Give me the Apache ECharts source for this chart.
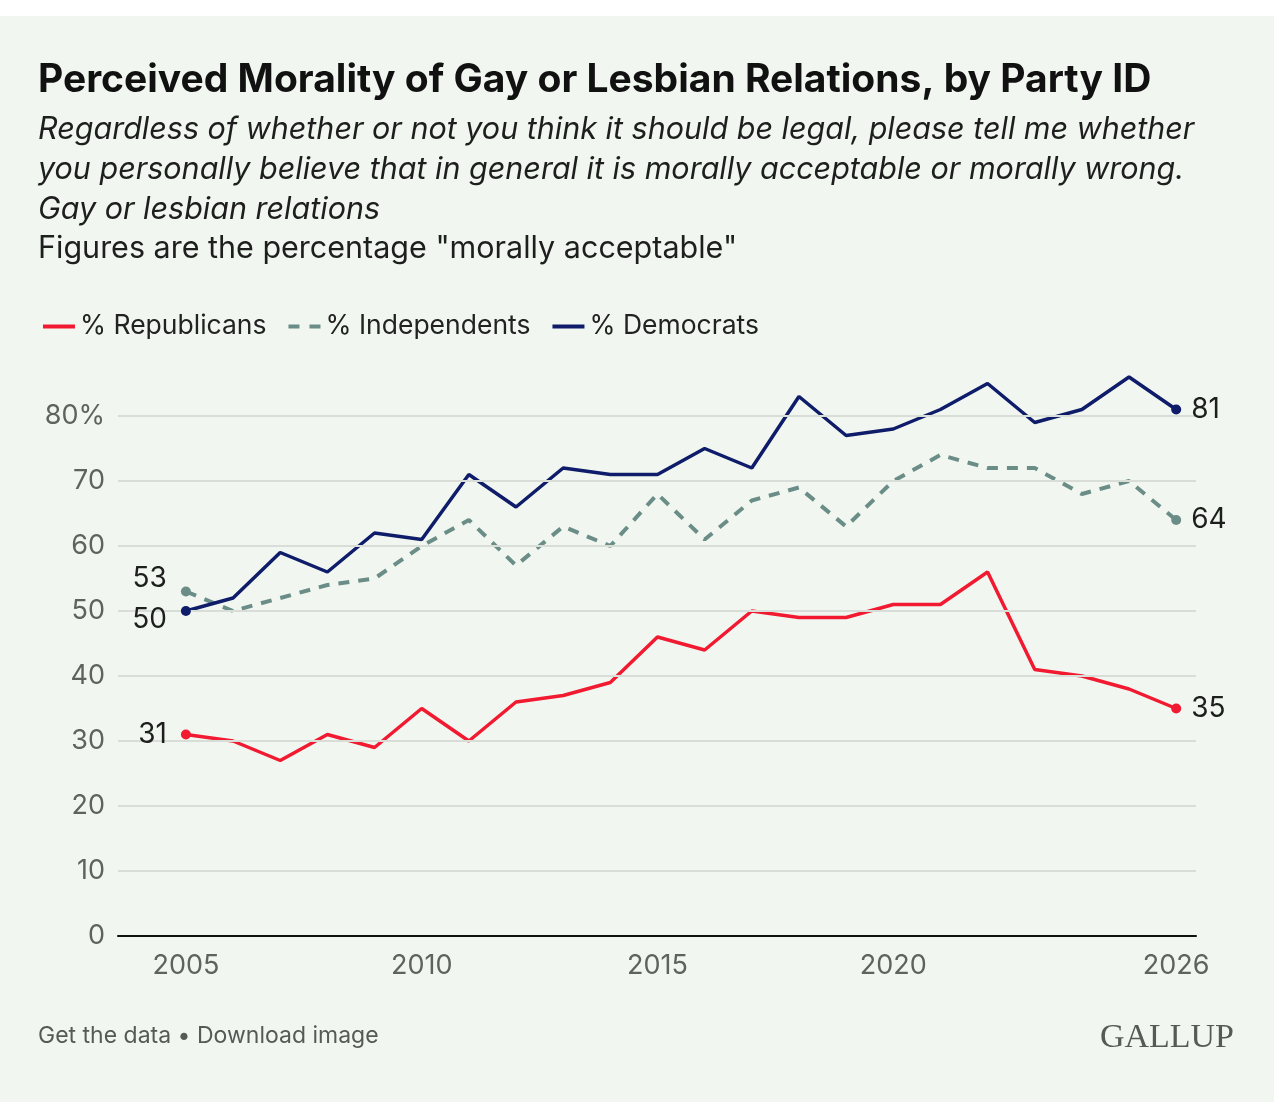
<!DOCTYPE html>
<html lang="en">
<head>
    <meta charset="UTF-8">
    <title>Perceived Morality of Gay or Lesbian Relations, by Party ID</title>
    <script src="https://cdn.jsdelivr.net/npm/echarts@6/dist/echarts.min.js"></script>
    <style>
        html, body {
            margin: 0;
            padding: 0;
            background: #ffffff;
        }

        #chart {
            width: 1280px;
            height: 1102px;
        }
    </style>
</head>
<body>
    <div id="chart"></div>

    <script>
        // data
        const years = [2005, 2006, 2007, 2008, 2009, 2010, 2011, 2012, 2013, 2014, 2015,
                       2016, 2017, 2018, 2019, 2020, 2021, 2022, 2023, 2024, 2025, 2026];
        const republicans = [31, 30, 27, 31, 29, 35, 30, 36, 37, 39, 46, 44, 50, 49, 49, 51, 51, 56, 41, 40, 38, 35];
        const independents = [53, 50, 52, 54, 55, 60, 64, 57, 63, 60, 68, 61, 67, 69, 63, 70, 74, 72, 72, 68, 70, 64];
        const democrats = [50, 52, 59, 56, 62, 61, 71, 66, 72, 71, 71, 75, 72, 83, 77, 78, 81, 85, 79, 81, 86, 81];
        const xTicks = [2005, 2010, 2015, 2020, 2026];
        const yTicks = [0, 10, 20, 30, 40, 50, 60, 70, 80];

        const fontMain = 'Inter, "Noto Sans", sans-serif';
        const RED = '#f11a31';
        const TEAL = '#6b8d87';
        const NAVY = '#0e1c6a';

        // legend icons: plain stroke and dashed stroke
        const ICON_SOLID = 'path://M0,0H32V4H0Z';
        const ICON_DASH = 'path://M0,0H11V4H0Z M21,0H32V4H21Z';

        function pairs(vals) {
            return years.map((y, i) => [y, vals[i]]);
        }

        // end points with labels, taken from the arrays
        function ends(vals, color, firstLabel) {
            const last = vals.length - 1;
            return [
                {
                    coord: [years[0], vals[0]],
                    value: vals[0],
                    itemStyle: { color: color },
                    label: firstLabel
                },
                {
                    coord: [years[last], vals[last]],
                    value: vals[last],
                    itemStyle: { color: color },
                    label: { position: 'right', distance: 10 }
                }
            ];
        }

        function markPointFor(vals, color, firstLabel) {
            return {
                symbol: 'circle',
                symbolSize: 10,
                silent: true,
                animation: false,
                label: {
                    show: true,
                    color: '#1e1e1e',
                    fontSize: 28,
                    fontFamily: fontMain,
                    formatter: '{c}'
                },
                data: ends(vals, color, firstLabel)
            };
        }

        const chart = echarts.init(document.getElementById('chart'));

        const option = {
            animation: false,
            backgroundColor: '#ffffff',
            textStyle: { fontFamily: fontMain },
            graphic: [
                {
                    type: 'rect',
                    z: -10,
                    shape: { x: 0, y: 16, width: 1274, height: 1086 },
                    style: { fill: '#f1f7f0' }
                },
                {
                    type: 'text',
                    left: 38,
                    top: 61,
                    style: {
                        text: 'Perceived Morality of Gay or Lesbian Relations, by Party ID',
                        font: 'bold 39px ' + fontMain,
                        fill: '#111111'
                    }
                },
                {
                    type: 'text',
                    left: 38,
                    top: 110,
                    style: {
                        text: 'Regardless of whether or not you think it should be legal, please tell me whether\nyou personally believe that in general it is morally acceptable or morally wrong.\nGay or lesbian relations',
                        font: 'italic 30.5px ' + fontMain,
                        lineHeight: 40,
                        fill: '#1e1e1e'
                    }
                },
                {
                    type: 'text',
                    left: 38,
                    top: 233,
                    style: {
                        text: 'Figures are the percentage "morally acceptable"',
                        font: '30.5px ' + fontMain,
                        fill: '#1e1e1e'
                    }
                },
                {
                    type: 'text',
                    left: 38,
                    top: 1025,
                    style: {
                        text: 'Get the data \u2022 Download image',
                        font: '23px ' + fontMain,
                        fill: '#555a57'
                    }
                },
                {
                    type: 'text',
                    right: 46,
                    top: 1021,
                    style: {
                        text: 'GALLUP',
                        font: '34px "Liberation Serif", "DejaVu Serif", serif',
                        fill: '#555a57'
                    }
                }
            ],
            legend: {
                left: 38,
                top: 308,
                itemWidth: 32,
                itemHeight: 4,
                itemGap: 22,
                textStyle: {
                    fontSize: 26.5,
                    color: '#222222',
                    fontFamily: fontMain
                },
                data: [
                    { name: '% Republicans', icon: ICON_SOLID },
                    { name: '% Independents', icon: ICON_DASH },
                    { name: '% Democrats', icon: ICON_SOLID }
                ]
            },
            grid: {
                left: 118,
                right: 84,
                top: 364,
                bottom: 166
            },
            xAxis: {
                type: 'value',
                min: 2003.56,
                max: 2026.42,
                axisLine: {
                    show: true,
                    onZero: false,
                    lineStyle: { color: '#111111', width: 2 }
                },
                axisTick: { show: false },
                splitLine: { show: false },
                axisLabel: {
                    customValues: xTicks,
                    margin: 16,
                    fontSize: 27,
                    color: '#5f635f',
                    formatter: v => String(v)
                }
            },
            yAxis: {
                type: 'value',
                min: 0,
                max: 88,
                axisLine: { show: false },
                axisTick: { show: false },
                splitLine: { show: false },
                axisLabel: {
                    customValues: yTicks,
                    margin: 13,
                    fontSize: 27,
                    color: '#5f635f',
                    formatter: v => (v === 80 ? '80%' : String(v))
                }
            },
            series: [
                {
                    // gridlines
                    name: 'grid',
                    type: 'line',
                    z: 1,
                    data: [],
                    markLine: {
                        silent: true,
                        symbol: ['none', 'none'],
                        animation: false,
                        label: { show: false },
                        lineStyle: { color: '#d8ddd7', width: 2, type: 'solid' },
                        data: yTicks.slice(1).map(v => ({ yAxis: v }))
                    }
                },
                {
                    name: '% Republicans',
                    type: 'line',
                    z: 3,
                    symbol: 'none',
                    data: pairs(republicans),
                    lineStyle: { color: RED, width: 3.5 },
                    itemStyle: { color: RED },
                    markPoint: markPointFor(republicans, RED, { position: 'left', distance: 14 })
                },
                {
                    name: '% Independents',
                    type: 'line',
                    z: 3,
                    symbol: 'none',
                    data: pairs(independents),
                    lineStyle: { color: TEAL, width: 4, type: [11, 9] },
                    itemStyle: { color: TEAL },
                    markPoint: markPointFor(independents, TEAL, { position: 'left', distance: 14, offset: [0, -13] })
                },
                {
                    name: '% Democrats',
                    type: 'line',
                    z: 4,
                    symbol: 'none',
                    data: pairs(democrats),
                    lineStyle: { color: NAVY, width: 3.5 },
                    itemStyle: { color: NAVY },
                    markPoint: markPointFor(democrats, NAVY, { position: 'left', distance: 14, offset: [0, 9] })
                }
            ]
        };

        chart.setOption(option);
    </script>
</body>
</html>
